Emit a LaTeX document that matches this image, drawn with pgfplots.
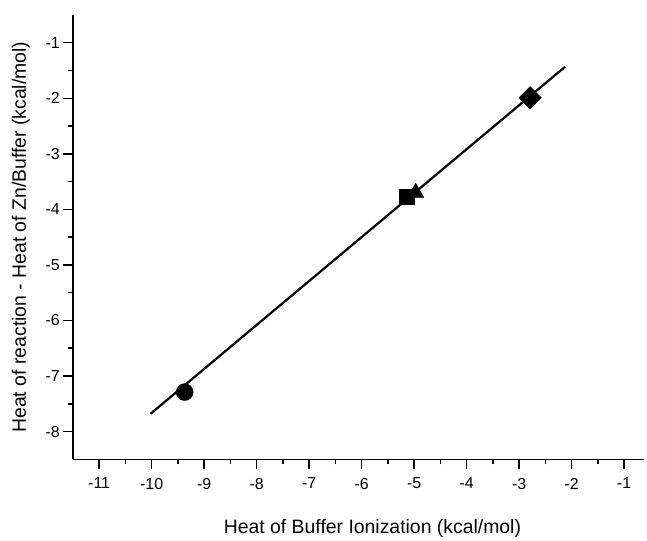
\documentclass[border=0pt]{standalone}
\usepackage{fontspec}
\setmainfont{Liberation Sans}
\usepackage{pgfplots}
\pgfplotsset{compat=1.18}

\begin{document}
\begin{tikzpicture}
\begin{axis}[
  width=572bp, height=445bp,
  scale only axis,
  clip=false,
  xmin=-11.5, xmax=-0.62,
  ymin=-8.5, ymax=-0.5,
  axis x line*=bottom,
  axis y line*=left,
  axis line style={line width=1.5bp, -},
  xtick={-11,-10,...,-1},
  ytick={-8,-7,...,-1},
  minor x tick num=1,
  minor y tick num=1,
  tick align=outside,
  major tick length=9.5bp,
  minor tick length=5bp,
  tick style={line width=1.5bp, black},
  /pgf/number format/assume math mode=true,
  tick label style={font=\fontsize{16}{19}\selectfont, inner sep=0pt},
  xticklabel style={yshift=-9bp},
  yticklabel style={xshift=-3.5bp},
  xlabel={Heat of Buffer Ionization (kcal/mol)},
  ylabel={Heat of reaction - Heat of Zn/Buffer (kcal/mol)},
  label style={font=\fontsize{19.5}{22}\selectfont},
  xlabel style={at={([xshift=14bp,yshift=-69bp]axis description cs:0.5,0)}, anchor=center},
  ylabel style={at={([xshift=-52bp]axis description cs:0,0.5)}, anchor=center},
]
% bounding box like the reference page
\path (rel axis cs:0,0) ++(-73bp,-77bp) (rel axis cs:1,1) ++(3bp,15bp);
% fitted line
\addplot[black, line width=2.2bp, no marks] coordinates {(-10.02,-7.68) (-2.12,-1.43)};
% data points
\addplot[only marks, mark=*, mark size=8.5bp, black] coordinates {(-9.37,-7.29)};
\addplot[only marks, mark=square*, mark size=7.5bp, black] coordinates {(-5.15,-3.77)};
\addplot[only marks, mark=triangle*, mark size=9.5bp, black] coordinates {(-4.97,-3.70)};
\addplot[only marks, mark=square*, mark size=8bp, black, mark options={rotate=45}] coordinates {(-2.79,-1.99)};
\end{axis}
\end{tikzpicture}
\end{document}
